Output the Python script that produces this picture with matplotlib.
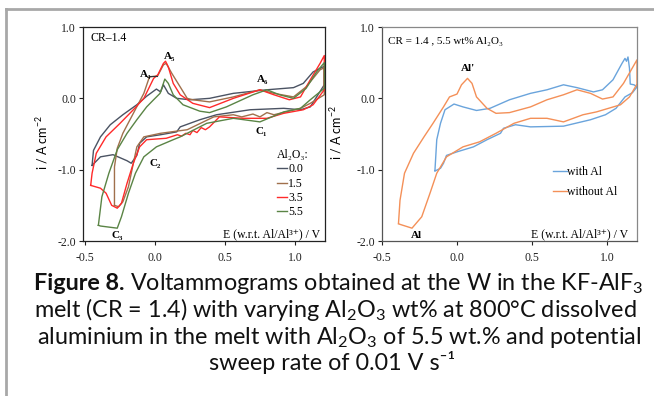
import numpy as np
import matplotlib
matplotlib.use('Agg')
import matplotlib.pyplot as plt
from matplotlib.lines import Line2D

plt.rcParams['mathtext.fontset'] = 'custom'
plt.rcParams['mathtext.rm'] = 'Lato'
plt.rcParams['mathtext.bf'] = 'Lato:bold'

SERIF = ['Liberation Serif', 'DejaVu Serif']
SANS = ['Lato', 'DejaVu Sans']

# ---- left panel: Al2O3 content 0.0 / 1.5 / 3.5 / 5.5 wt% (upper branch then return branch)
e_00 = [-0.45, -0.44, -0.39, -0.32, -0.23, -0.13, -0.06, 0.01, 0.04, 0.06, 0.095, 0.155, 0.25, 0.39,
        0.56, 0.80, 0.99, 1.06, 1.13, 1.21,
        1.21, 1.11, 1.04, 0.92, 0.68, 0.44, 0.32, 0.18, 0.155, 0.04, -0.06, -0.11, -0.13, -0.17,
        -0.20, -0.30, -0.39, -0.45]
i_00 = [-0.94, -0.73, -0.54, -0.37, -0.23, -0.09, 0.03, 0.13, 0.09, 0.19, 0.07, 0.0, -0.02, 0.0,
        0.07, 0.12, 0.15, 0.21, 0.37, 0.45,
        0.19, -0.12, -0.16, -0.14, -0.16, -0.23, -0.30, -0.40, -0.47, -0.51, -0.54, -0.63, -0.80, -0.91,
        -0.875, -0.79, -0.82, -0.94]

e_15 = [-0.29, -0.29, -0.29, -0.27, -0.23, -0.155, -0.08, -0.04, 0.0, 0.02, 0.06, 0.08, 0.12, 0.18,
        0.23, 0.27, 0.39, 0.56, 0.75, 0.85, 0.99, 1.08, 1.18, 1.21,
        1.21, 1.11, 1.04, 0.85, 0.80, 0.75, 0.70, 0.62, 0.56, 0.42, 0.23, 0.04, -0.08, -0.13, -0.155,
        -0.19, -0.23, -0.26, -0.29]
i_15 = [-1.50, -1.15, -0.96, -0.70, -0.49, -0.21, 0.07, 0.30, 0.31, 0.32, 0.47, 0.49, 0.35, 0.16,
        0.0, -0.02, -0.05, 0.02, 0.12, 0.07, 0.02, 0.16, 0.40, 0.43,
        0.05, -0.07, -0.14, -0.23, -0.20, -0.26, -0.22, -0.26, -0.23, -0.26, -0.44, -0.49, -0.54, -0.68, -0.91,
        -1.24, -1.45, -1.52, -1.50]

e_35 = [-0.46, -0.45, -0.42, -0.35, -0.25, -0.155, -0.08, -0.04, -0.01, 0.02, 0.06, 0.075, 0.095, 0.13,
        0.18, 0.27, 0.39, 0.56, 0.75, 0.85, 0.96, 1.04, 1.11, 1.18, 1.21,
        1.21, 1.13, 1.06, 0.92, 0.80, 0.63, 0.46, 0.39, 0.36, 0.33, 0.30, 0.27, 0.25, 0.22, 0.19, 0.16,
        0.08, -0.06, -0.11, -0.155, -0.20, -0.24, -0.27, -0.31, -0.35, -0.39, -0.46]
i_35 = [-1.22, -1.05, -0.77, -0.54, -0.35, -0.16, 0.0, 0.16, 0.28, 0.33, 0.49, 0.52, 0.44, 0.21,
        0.05, -0.07, -0.13, 0.0, 0.12, 0.05, -0.02, 0.02, 0.26, 0.49, 0.60,
        0.12, -0.09, -0.16, -0.21, -0.28, -0.28, -0.26, -0.40, -0.44, -0.41, -0.48, -0.45, -0.51, -0.49, -0.53, -0.51,
        -0.56, -0.58, -0.68, -0.91, -1.19, -1.47, -1.54, -1.50, -1.33, -1.26, -1.22]

e_55 = [-0.405, -0.38, -0.33, -0.27, -0.20, -0.13, -0.06, -0.01, 0.036, 0.07, 0.095, 0.13, 0.20, 0.32,
        0.39, 0.51, 0.70, 0.80, 0.89, 0.99, 1.08, 1.155, 1.21,
        1.21, 1.11, 1.04, 0.92, 0.75, 0.56, 0.37, 0.18, 0.13, 0.01, -0.08, -0.14, -0.19, -0.24, -0.27,
        -0.39, -0.405]
i_55 = [-1.78, -1.38, -1.05, -0.72, -0.49, -0.30, -0.12, -0.02, 0.07, 0.27, 0.21, 0.05, -0.09, -0.18,
        -0.20, -0.12, 0.05, 0.12, 0.05, 0.0, 0.14, 0.37, 0.50,
        0.14, -0.02, -0.14, -0.19, -0.33, -0.28, -0.35, -0.54, -0.58, -0.68, -0.82, -1.05, -1.33, -1.66, -1.82,
        -1.79, -1.78]

# ---- right panel: 5.5 wt% Al2O3 with / without dissolved Al
e_with = [-0.147, -0.135, -0.11, -0.08, -0.02, 0.04, 0.13, 0.22, 0.35, 0.49, 0.60, 0.71, 0.80, 0.91,
          0.97, 1.04, 1.10, 1.12, 1.13, 1.14, 1.15, 1.155, 1.18, 1.2,
          1.17, 1.12, 1.06, 0.99, 0.89, 0.71, 0.49, 0.39, 0.31, 0.29, 0.20, 0.11, 0.0, -0.07, -0.09,
          -0.11, -0.147]
i_with = [-1.01, -0.58, -0.35, -0.16, -0.08, -0.12, -0.17, -0.14, -0.02, 0.07, 0.12, 0.19, 0.15, 0.09,
          0.12, 0.26, 0.49, 0.56, 0.52, 0.58, 0.42, 0.20, 0.19, 0.16,
          0.08, 0.02, -0.14, -0.23, -0.30, -0.39, -0.40, -0.37, -0.42, -0.49, -0.58, -0.68, -0.75, -0.80, -0.91,
          -0.98, -1.02]

e_without = [-0.39, -0.38, -0.35, -0.29, -0.22, -0.16, -0.09, -0.05, 0.0, 0.03, 0.07, 0.10, 0.13, 0.20,
             0.26, 0.35, 0.49, 0.60, 0.71, 0.80, 0.89, 0.97, 1.04, 1.11, 1.2,
             1.2, 1.15, 1.09, 0.93, 0.84, 0.71, 0.60, 0.49, 0.38, 0.26, 0.15, 0.04, -0.07, -0.135, -0.18,
             -0.235, -0.30, -0.39]
i_without = [-1.75, -1.43, -1.05, -0.77, -0.54, -0.35, -0.12, 0.02, 0.06, 0.19, 0.28, 0.21, 0.02, -0.14,
             -0.21, -0.20, -0.12, -0.02, 0.05, 0.12, 0.07, -0.01, 0.02, 0.21, 0.54,
             0.20, 0.02, -0.09, -0.19, -0.23, -0.33, -0.28, -0.28, -0.35, -0.49, -0.61, -0.68, -0.82, -1.05, -1.33,
             -1.66, -1.82, -1.76]

x_ticks = [-0.5, 0.0, 0.5, 1.0]
y_ticks = [-2.0, -1.0, 0.0, 1.0]

fig = plt.figure(figsize=(6.54, 3.96), dpi=100)
axL = fig.add_axes([0.1269, 0.3914, 0.370, 0.5404])
axR = fig.add_axes([0.5841, 0.3914, 0.3899, 0.5404])

axL.plot(e_00, i_00, color='#4b5363', lw=1.0, label='0.0')
axL.plot(e_15, i_15, color='#a0704c', lw=1.0, label='1.5')
axL.plot(e_35, i_35, color='#ff2a2a', lw=1.0, label='3.5')
axL.plot(e_55, i_55, color='#5a8445', lw=1.0, label='5.5')

axR.plot(e_with, i_with, color='#6aa4dc', lw=1.0, label='with Al')
axR.plot(e_without, i_without, color='#f49058', lw=1.0, label='without Al')

for ax, xl, spc in [(axL, (-0.515, 1.215), '#222222'), (axR, (-0.5, 1.2), '#555555')]:
    ax.set_xlim(*xl)
    ax.set_ylim(-2.0, 1.0)
    ax.set_xticks(x_ticks)
    ax.set_xticklabels(['%.1f' % v for v in x_ticks])
    ax.set_yticks(y_ticks)
    ax.set_yticklabels(['%.1f' % v for v in y_ticks])
    ax.tick_params(direction='out', length=3, width=0.8, pad=2, labelsize=8.5, colors='#222222')
    ax.tick_params(axis='x', pad=5)
    for lab in ax.get_xticklabels() + ax.get_yticklabels():
        lab.set_family(SERIF)
    for s in ax.spines.values():
        s.set_color(spc)
        s.set_linewidth(0.9)
    ax.set_ylabel('i / A cm$^{\\mathrm{-2}}$', fontsize=9, family=SANS)
    ax.text(0.98 if ax is axL else 0.965, -1.90, 'E (w.r.t. Al/Al\u00b3\u207a) / V', fontsize=8.5,
            family=SERIF, ha='right', va='center', transform=ax.get_yaxis_transform())

axR.spines['top'].set_color('#888888')
axR.spines['right'].set_color('#888888')
axL.yaxis.set_label_coords(-0.135, 0.46)
axR.yaxis.set_label_coords(-0.148, 0.505)

# left panel annotations
axL.text(-0.46, 0.846, 'CR\u20131.4', fontsize=8.5, family=SERIF, ha='left', va='center')
ann = dict(fontsize=8, family=SERIF, fontweight='bold', ha='center', va='center')
axL.text(0.107, 0.58, 'A\u2085', **ann)
axL.text(-0.07, 0.34, 'A\u2084', **ann)
axL.plot([-0.036, 0.014], [0.31, 0.31], color='#333333', lw=0.8)
axL.text(0.77, 0.26, 'A\u2086', **ann)
axL.text(0.76, -0.47, 'C\u2081', **ann)
axL.text(0.0, -0.91, 'C\u2082', **ann)
axL.text(-0.27, -1.92, 'C\u2083', **ann)

legL = axL.legend(title='Al\u2082O\u2083:', loc='upper left', bbox_to_anchor=(0.80, 0.43),
                  frameon=False, handlelength=0.9, handletextpad=0.1, labelspacing=0.2,
                  borderaxespad=0, borderpad=0, alignment='left',
                  prop={'family': SERIF, 'size': 8.5})
legL.get_title().set_family(SERIF)
legL.get_title().set_fontsize(8.5)

# right panel annotations
axR.text(-0.46, 0.79, 'CR = 1.4 , 5.5 wt% Al\u2082O\u2083', fontsize=8, family=SERIF, ha='left', va='center')
axR.text(0.073, 0.42, "Al'", **ann)
axR.text(-0.27, -1.92, 'Al', **ann)
axR.legend(loc='upper left', bbox_to_anchor=(0.67, 0.35), frameon=False, handlelength=1.2,
           handletextpad=0.0, labelspacing=0.7, borderaxespad=0, borderpad=0,
           prop={'family': SERIF, 'size': 8.5})

# caption (line 1 = bold label + regular text)
cap_size = 16.8
rend = fig.canvas.get_renderer()
W, H = 654.0, 396.0
t_bold = fig.text(0, 0, 'Figure 8.', fontsize=cap_size, family=SANS, fontweight='bold',
                  va='baseline', color='#111111')
t_rest = fig.text(0, 0, 'Voltammograms obtained at the W in the KF-AlF$_{\\mathrm{3}}$', fontsize=cap_size,
                  family=SANS, va='baseline', color='#111111')
wb = t_bold.get_window_extent(rend).width
wr = t_rest.get_window_extent(rend).width
gap = 0.25 * cap_size * 100 / 72
x0 = 339 - (wb + gap + wr) / 2
y1 = 1 - 290.5 / H
t_bold.set_position((x0 / W, y1))
t_rest.set_position(((x0 + wb + gap) / W, y1))

cap_lines = ['melt (CR = 1.4) with varying Al$_{\\mathrm{2}}$O$_{\\mathrm{3}}$ wt% at 800\u00b0C dissolved',
             'aluminium in the melt with Al$_{\\mathrm{2}}$O$_{\\mathrm{3}}$ of 5.5 wt.% and potential',
             'sweep rate of 0.01 V s\u207b\u00b9']
cap_x = [335.5, 339, 332]
cap_y = [317, 344, 370.5]
for line, cx, cy in zip(cap_lines, cap_x, cap_y):
    fig.text(cx / W, 1 - cy / H, line, fontsize=cap_size, family=SANS,
             ha='center', va='baseline', color='#111111')

# grey page frame
fig.add_artist(Line2D([6 / W, 6 / W], [0, 1 - 9 / H], transform=fig.transFigure,
                      color='#a8a8a8', lw=2))
fig.add_artist(Line2D([6 / W, 1], [1 - 9 / H, 1 - 9 / H], transform=fig.transFigure,
                      color='#a8a8a8', lw=2))

fig.savefig('out.png', dpi=100)
